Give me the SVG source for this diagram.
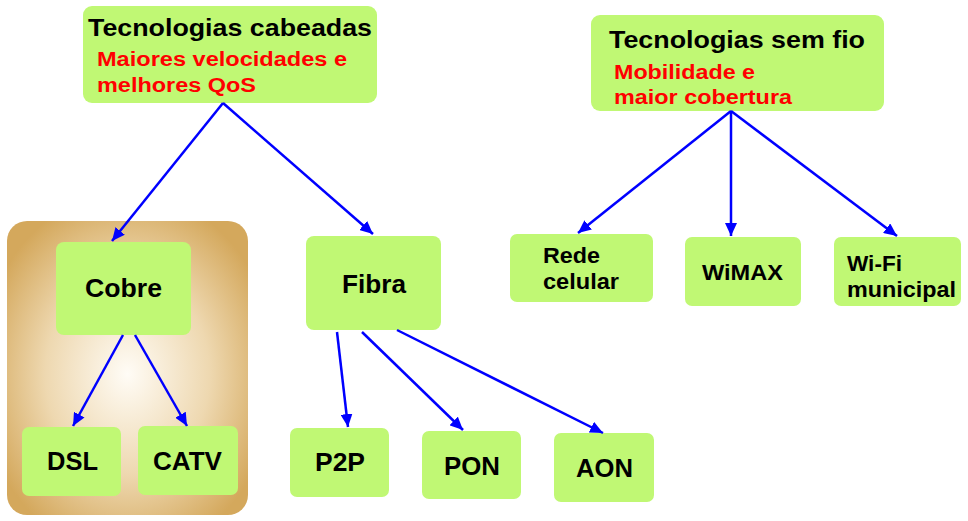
<svg xmlns="http://www.w3.org/2000/svg" width="968" height="521" viewBox="0 0 968 521">
<style>
.node{fill:#c0f874;}
.t{font-family:"Liberation Sans",Arial,sans-serif;font-weight:bold;fill:#000;}
.title{font-size:24px;}
.sub{font-size:20px;fill:#ff0000;}
.lbl{font-size:25px;}
.lbl2{font-size:22px;}
.edge{stroke:#0000ff;stroke-width:2.5;fill:none;marker-end:url(#ah);}
</style>
<defs>
<marker id="ah" markerUnits="userSpaceOnUse" markerWidth="14" markerHeight="12" refX="13" refY="6" orient="auto">
<path d="M0,0 L13,6 L0,12 Z" fill="#0000ff"/>
</marker>
<radialGradient id="tan" cx="50%" cy="52%" r="62%">
<stop offset="0" stop-color="#fffcf6"/>
<stop offset="0.55" stop-color="#eed8b0"/>
<stop offset="1" stop-color="#d4a85c"/>
</radialGradient>
</defs>
<rect id="copper-group" x="7" y="221" width="241" height="294" rx="20" fill="url(#tan)"/>
<g id="cabeadas">
<rect class="node" x="83" y="6" width="294" height="97" rx="9"/>
<text class="t title" x="88" y="36" textLength="284" lengthAdjust="spacingAndGlyphs">Tecnologias cabeadas</text>
<text class="t sub" x="97" y="66" textLength="250" lengthAdjust="spacingAndGlyphs">Maiores velocidades e</text>
<text class="t sub" x="97" y="92" textLength="159" lengthAdjust="spacingAndGlyphs">melhores QoS</text>
</g>
<g id="semfio">
<rect class="node" x="591" y="15" width="293" height="96" rx="9"/>
<text class="t title" x="609" y="48" textLength="256" lengthAdjust="spacingAndGlyphs">Tecnologias sem fio</text>
<text class="t sub" x="614" y="79" textLength="141" lengthAdjust="spacingAndGlyphs">Mobilidade e</text>
<text class="t sub" x="614" y="104" textLength="178" lengthAdjust="spacingAndGlyphs">maior cobertura</text>
</g>
<g id="cobre">
<rect class="node" x="56" y="242" width="135" height="93" rx="8"/>
<text class="t lbl" x="85" y="297" textLength="77" lengthAdjust="spacingAndGlyphs">Cobre</text>
</g>
<g id="dsl">
<rect class="node" x="22" y="427" width="99" height="69" rx="7"/>
<text class="t lbl" x="47" y="470" textLength="51" lengthAdjust="spacingAndGlyphs">DSL</text>
</g>
<g id="catv">
<rect class="node" x="138" y="426" width="100" height="69" rx="7"/>
<text class="t lbl" x="153" y="470" textLength="69" lengthAdjust="spacingAndGlyphs">CATV</text>
</g>
<g id="fibra">
<rect class="node" x="306" y="236" width="135" height="94" rx="8"/>
<text class="t lbl" x="342" y="293" textLength="64" lengthAdjust="spacingAndGlyphs">Fibra</text>
</g>
<g id="p2p">
<rect class="node" x="290" y="428" width="99" height="69" rx="7"/>
<text class="t lbl" x="315" y="471" textLength="50" lengthAdjust="spacingAndGlyphs">P2P</text>
</g>
<g id="pon">
<rect class="node" x="422" y="431" width="99" height="68" rx="7"/>
<text class="t lbl" x="444" y="475" textLength="56" lengthAdjust="spacingAndGlyphs">PON</text>
</g>
<g id="aon">
<rect class="node" x="554" y="433" width="100" height="69" rx="7"/>
<text class="t lbl" x="576" y="477" textLength="57" lengthAdjust="spacingAndGlyphs">AON</text>
</g>
<g id="rede">
<rect class="node" x="510" y="234" width="143" height="68" rx="7"/>
<text class="t lbl2" x="543" y="263" textLength="57" lengthAdjust="spacingAndGlyphs">Rede</text>
<text class="t lbl2" x="543" y="289" textLength="76" lengthAdjust="spacingAndGlyphs">celular</text>
</g>
<g id="wimax">
<rect class="node" x="685" y="237" width="116" height="69" rx="7"/>
<text class="t lbl2" x="702" y="280" textLength="81" lengthAdjust="spacingAndGlyphs">WiMAX</text>
</g>
<g id="wifi">
<rect class="node" x="834" y="237" width="127" height="69" rx="7"/>
<text class="t lbl2" x="847" y="271" textLength="55" lengthAdjust="spacingAndGlyphs">Wi-Fi</text>
<text class="t lbl2" x="847" y="297" textLength="109" lengthAdjust="spacingAndGlyphs">municipal</text>
</g>
<g id="connectors">
<line class="edge" x1="223" y1="103" x2="112" y2="241"/>
<line class="edge" x1="223" y1="103" x2="373" y2="234"/>
<line class="edge" x1="123" y1="335" x2="73" y2="426"/>
<line class="edge" x1="135" y1="335" x2="187" y2="426"/>
<line class="edge" x1="337" y1="332" x2="348" y2="427"/>
<line class="edge" x1="362" y1="332" x2="463" y2="430"/>
<line class="edge" x1="397" y1="330" x2="603" y2="433"/>
<line class="edge" x1="731" y1="111" x2="578" y2="233"/>
<line class="edge" x1="731" y1="111" x2="731" y2="236"/>
<line class="edge" x1="731" y1="111" x2="897" y2="236"/>
</g>
</svg>
